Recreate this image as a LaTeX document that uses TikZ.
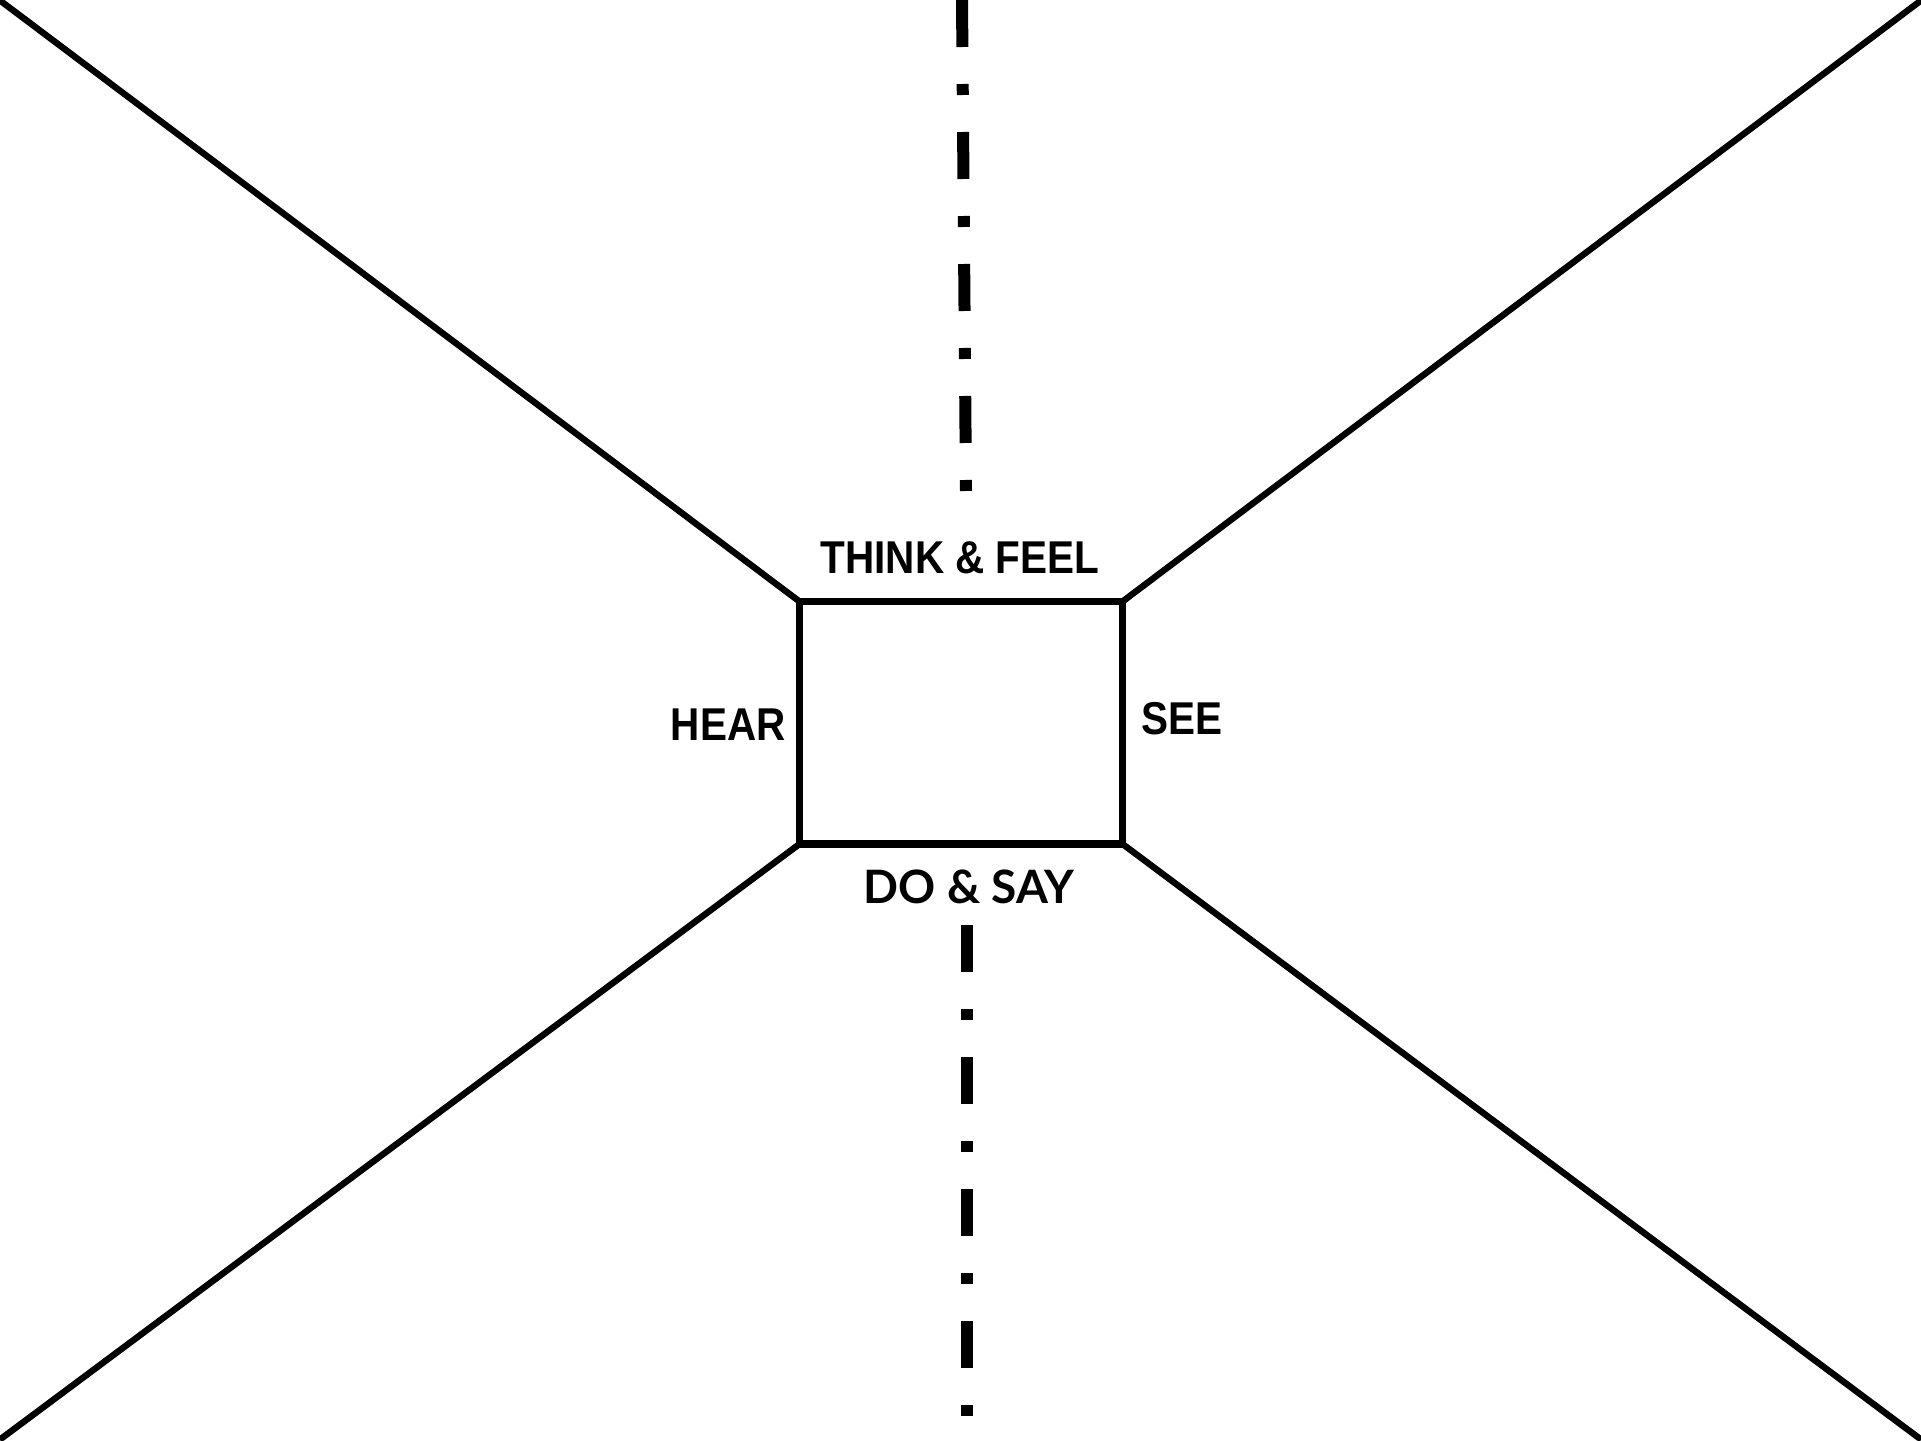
\documentclass[tikz,border=0pt]{standalone}
\usepackage{fontspec}
\newfontfamily\labfont[FakeStretch=0.88]{Liberation Sans}
\newfontfamily\dofont{Lato}
\begin{document}
\begin{tikzpicture}[x=0.5pt,y=-0.5pt,
  diag/.style={line width=3.2pt,line cap=round},
  centerbox/.style={draw,line width=3.6pt,inner sep=0pt,outer sep=0pt,
    minimum width=161.5pt,minimum height=121.25pt},
  lab/.style={font=\labfont\bfseries\fontsize{23}{27}\selectfont,inner sep=0pt},
  dolab/.style={font=\dofont\bfseries\fontsize{23}{27}\selectfont,inner sep=0pt},
  dashdotline/.style={line width=6pt,dash pattern=on 23.5pt off 18.5pt on 5.5pt off 18.5pt}]
\useasboundingbox (0,0) rectangle (1921,1440);
\node[centerbox] (box) at (961,722.75) {};
\coordinate (tl) at (2,2);
\coordinate (tr) at (1919,2);
\coordinate (bl) at (2,1438);
\coordinate (br) at (1919,1438);
\draw[diag] (tl) -- (box.north west);
\draw[diag] (tr) -- (box.north east);
\draw[diag] (bl) -- (box.south west);
\draw[diag] (br) -- (box.south east);
\node[lab,anchor=base] (think) at (960,573) {THINK \& FEEL};
\node[lab,anchor=base east] (hear) at (786,740) {HEAR};
\node[lab,anchor=base west] (see) at (1141,734) {SEE};
\node[dolab,anchor=base] (do) at (969,903) {DO \& SAY};
\coordinate (ta) at (962,0);
\coordinate (tb) at (966,492);
\coordinate (ba) at (967,925);
\coordinate (bb) at (967,1416);
\draw[dashdotline] (ta) -- (tb);
\draw[dashdotline] (ba) -- (bb);
\end{tikzpicture}
\end{document}
